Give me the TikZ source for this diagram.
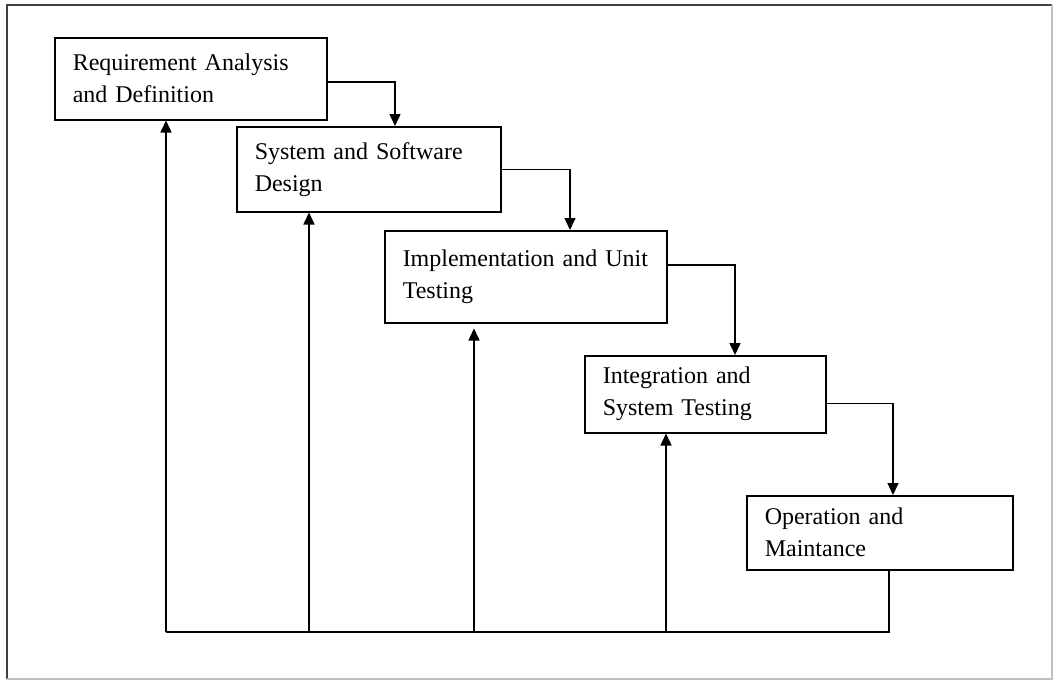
\documentclass[tikz,border=0pt]{standalone}
\usepackage{fontspec}
\setmainfont{Liberation Serif}
\usetikzlibrary{arrows.meta}
\tikzset{
  stage/.style={draw, line width=1.5pt, anchor=north west, align=left,
    inner xsep=18pt, font=\fontsize{24}{32}\selectfont},
  flow/.style={line width=1.5pt, -{Triangle[width=11pt,length=12pt]}},
  link/.style={line width=1.5pt}
}
\begin{document}
\begin{tikzpicture}[x=1pt,y=-1pt]
      \useasboundingbox (0,0) rectangle (1056,680);
      % frame
      \draw[line width=1.4pt, black!75] (7,679) -- (7,5) -- (1052,5);
      \draw[line width=1.4pt, black!25] (1052,5) -- (1052,679) -- (7,679);
      % stages
      \node[stage, text width=236pt, minimum height=82pt] (b1) at (54,37)
        {Requirement Analysis\\and Definition};
      \node[stage, text width=228pt, minimum height=85pt] (b2) at (236,126)
        {System and Software\\Design};
      \node[stage, text width=246pt, minimum height=92pt] (b3) at (384,230)
        {Implementation and Unit\\Testing};
      \node[stage, text width=205pt, minimum height=77pt] (b4) at (584,355)
        {Integration and\\System Testing};
      \node[stage, text width=230pt, minimum height=74pt] (b5) at (746,495)
        {Operation and\\Maintance};
      % waterfall
      \draw[flow] ([yshift=-3pt]b1.east) -| ([xshift=159pt]b2.north west);
      \draw[flow] (b2.east) -| ([xshift=186pt]b3.north west);
      \draw[flow] ([yshift=12pt]b3.east) -| ([xshift=151pt]b4.north west);
      \draw[flow] ([yshift=-9pt]b4.east) -| ([xshift=147pt]b5.north west);
      % feedback
      \coordinate (base) at (0,632);
      \coordinate (u1) at ([xshift=112pt]b1.south west);
      \coordinate (u2) at ([xshift=73pt]b2.south west);
      \coordinate (u3) at ([xshift=90pt,yshift=-5pt]b3.south west);
      \coordinate (u4) at ([xshift=82pt]b4.south west);
      \coordinate (f5) at ([xshift=143pt]b5.south west);
      \draw[link] (f5) |- (u1 |- base);
      \draw[flow] (u1 |- base) -- (u1);
      \draw[flow] (u2 |- base) -- (u2);
      \draw[flow] (u3 |- base) -- (u3);
      \draw[flow] (u4 |- base) -- (u4);
    \end{tikzpicture}
\end{document}
